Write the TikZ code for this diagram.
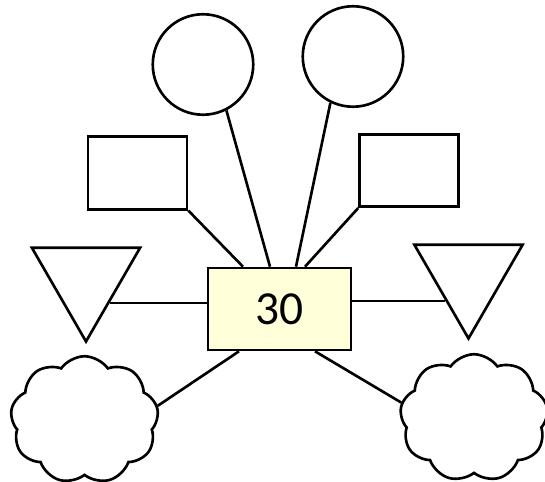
\documentclass[tikz,border=0pt]{standalone}
\usepackage{fontspec}
\newfontfamily\calfont{Carlito}
\usepackage{tikz}
\usetikzlibrary{shapes.geometric}
\usetikzlibrary{shapes.symbols}
\definecolor{Pale}{RGB}{255,255,217}

\begin{document}
\begin{tikzpicture}[x=0.02cm, y=-0.02cm, line width=1.5pt,
    ball/.style={circle, draw, minimum size=2.01cm, inner sep=0pt},
    card/.style={rectangle, draw, minimum width=1.98cm, minimum height=1.45cm, inner sep=0pt},
    wedge/.style={regular polygon, regular polygon sides=3, shape border rotate=180, draw, minimum size=2.5cm, inner sep=0pt},
    puff/.style={cloud, cloud puffs=9, cloud puff arc=110, draw, minimum width=2.96cm, minimum height=2.55cm, inner sep=0pt, aspect=1.15}]
        \useasboundingbox (0,0) rectangle (545,482);
        % middle box
        \node[rectangle, draw, fill=Pale, minimum width=2.86cm, minimum height=1.64cm, inner sep=0pt] (Mid) at (279.5,309) {\calfont\fontsize{27}{32}\selectfont 30};
        % outer nodes
        \node[ball] (C1) at (203,64.5) {};
        \node[ball] (C2) at (353,56.5) {};
        \node[card] (R1) at (137.5,173) {};
        \node[card] (R2) at (409,170.5) {};
        \node[wedge] (T1) at (86,279) {};
        \node[wedge] (T2) at (468.5,276) {};
        \node[puff] (K1) at (84.5,420) {};
        \node[puff] (K2) at (474,418) {};

        % edges
        \draw (C1.-63) -- ([xshift=-0.19cm]Mid.north);
        \draw (C2.-116) -- ([xshift=0.33cm]Mid.north);
        \draw (R1.south east) -- ([xshift=-0.73cm]Mid.north);
        \draw (R2.south west) -- ([xshift=0.51cm]Mid.north);
        \draw (T1.-45) -- (T1.-45 -| Mid.west);
        \draw (T2.-133) -- (T2.-133 -| Mid.east);
        \draw (K1.11) -- ([xshift=-0.81cm]Mid.south);
        \draw (K2.168) -- ([xshift=0.71cm]Mid.south);
\end{tikzpicture}
\end{document}
